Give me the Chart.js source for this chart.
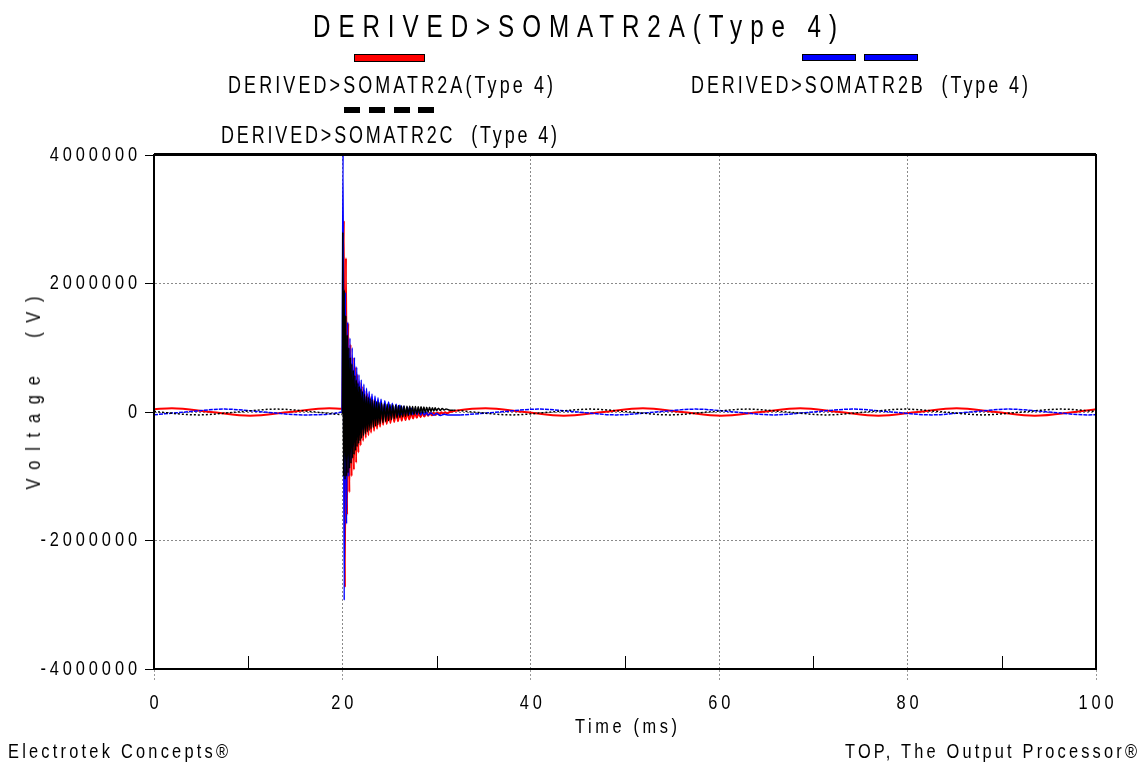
<!DOCTYPE html>
<html>
<head>
<meta charset="utf-8">
<title>DERIVED>SOMATR2A(Type 4)</title>
<script src="https://cdn.jsdelivr.net/npm/chart.js@4.4.1/dist/chart.umd.min.js"></script>
<style>
  html, body { margin: 0; padding: 0; background: #fff; }
  #wrap { position: relative; width: 1139px; height: 763px; overflow: hidden; }
  #chart { position: absolute; left: 0; top: 0; }
  .txt {
    position: absolute; white-space: pre; color: #000;
    font-family: 'Liberation Sans', Arial, sans-serif;
  }
  .swatch { position: absolute; box-sizing: border-box; }
</style>
</head>
<body>
<div id="wrap">
  <canvas id="chart" width="1139" height="763"></canvas>
  <div class="swatch" style="left:354px;top:54px;width:71px;height:8px;background:#ff0000;border:1px solid #000"></div>
  <div class="swatch" style="left:802px;top:54px;width:54px;height:7px;background:#0000ff;border:1px solid #000"></div>
  <div class="swatch" style="left:864px;top:54px;width:54px;height:7px;background:#0000ff;border:1px solid #000"></div>
  <div class="swatch" style="left:344px;top:107px;width:16px;height:6px;background:#000"></div>
  <div class="swatch" style="left:369px;top:107px;width:16px;height:6px;background:#000"></div>
  <div class="swatch" style="left:394px;top:107px;width:16px;height:6px;background:#000"></div>
  <div class="swatch" style="left:418px;top:107px;width:16px;height:6px;background:#000"></div>
</div>
<script>
// axis ticks (ms / V)
const xTicks = [0, 20, 40, 60, 80, 100];
const xMinor = [10, 30, 50, 70, 90];
const yTicks = [-4000000, -2000000, 0, 2000000, 4000000];

// [time ms, voltage V]
const redPts = [
  [0, 43000], [1.9, 58000], [6.05, 0], [10.2, -58000], [14.4, 0], [18.6, 58000], [20.0, 50000],
  [20.16, 2980000], [20.27, -2730000], [20.38, 2400000], [20.5, -1600000], [20.62, 1380000],
  [20.74, -1250000], [20.86, 1050000], [20.98, -1000000], [21.1, 850000], [21.22, -900000],
  [21.34, 700000], [21.46, -790000], [21.58, 580000], [21.7, -630000], [21.82, 470000],
  [21.94, -520000], [22.06, 400000], [22.2, -450000], [22.34, 330000], [22.48, -400000],
  [22.62, 280000], [22.76, -360000], [22.9, 240000], [23.04, -320000], [23.2, 200000],
  [23.36, -290000], [23.52, 170000], [23.68, -260000], [23.84, 140000], [24.0, -230000],
  [24.16, 120000], [24.32, -200000], [24.5, 100000], [24.7, -185000], [24.9, 80000],
  [25.1, -170000], [25.3, 60000], [25.5, -155000], [25.7, 45000], [25.9, -145000],
  [26.1, 30000], [26.3, -135000], [26.5, 15000], [26.7, -125000], [26.9, 5000],
  [27.1, -115000], [27.3, -5000], [27.5, -100000], [27.7, -10000], [27.9, -90000],
  [28.1, -12000], [28.3, -80000], [28.5, -12000], [28.7, -70000], [28.9, -12000],
  [29.1, -60000], [29.3, -10000], [29.5, -52000], [29.7, -10000], [29.9, -45000],
  [30.1, -8000], [30.3, -38000], [30.5, -5000], [30.7, -30000], [30.9, -2000],
  [31.1, -20000], [31.4, 0], [32.2, 24000],
  [35.2, 58000], [39.35, 0], [43.5, -58000], [47.7, 0], [51.9, 58000], [56.05, 0], [60.2, -58000],
  [64.4, 0], [68.6, 58000], [72.75, 0], [76.9, -58000], [81.05, 0], [85.2, 58000], [89.35, 0],
  [93.5, -58000], [97.7, 0], [100, 44000]
];

const bluePts = [
  [0, -42500], [3.35, 0], [7.5, 45000], [11.65, 0], [15.8, -45000], [19.95, 0],
  [20.07, 4000000], [20.19, -2930000], [20.32, 1860000], [20.44, -1740000], [20.56, 1400000],
  [20.68, -1000000], [20.8, 1150000], [20.92, -750000], [21.04, 1000000], [21.16, -550000],
  [21.28, 850000], [21.4, -450000], [21.52, 700000], [21.64, -380000], [21.76, 580000],
  [21.88, -320000], [22.0, 500000], [22.14, -270000], [22.28, 430000], [22.42, -220000],
  [22.56, 370000], [22.7, -180000], [22.84, 320000], [22.98, -150000], [23.14, 280000],
  [23.3, -120000], [23.46, 250000], [23.62, -100000], [23.78, 220000], [23.94, -85000],
  [24.1, 200000], [24.3, -75000], [24.5, 175000], [24.7, -65000], [24.9, 155000],
  [25.1, -55000], [25.3, 135000], [25.5, -50000], [25.7, 120000], [25.9, -45000],
  [26.1, 105000], [26.3, -40000], [26.5, 90000], [26.7, -35000], [26.9, 75000],
  [27.1, -35000], [27.3, 60000], [27.5, -38000], [27.7, 45000], [27.9, -40000],
  [28.1, 30000], [28.3, -45000], [28.5, 15000], [28.7, -48000], [28.9, 0],
  [29.1, -50000], [29.4, -15000], [29.7, -52000], [30.0, -25000], [30.4, -55000],
  [30.8, -35000], [31.3, -48000], [32.5, -45000],
  [36.65, 0], [40.8, 45000], [44.95, 0], [49.1, -45000], [53.3, 0], [57.5, 45000], [61.65, 0],
  [65.8, -45000], [69.95, 0], [74.1, 45000], [78.3, 0], [82.5, -45000], [86.65, 0], [90.8, 45000],
  [94.95, 0], [99.1, -45000], [100, -42500]
];

const blackPts = [
  [0, 9300], [0.55, 0], [4.7, -45000], [8.85, 0], [13.0, 45000], [17.15, 0], [20.0, -39000],
  [20.04, 2800000], [20.12, -1000000], [20.2, 1900000], [20.28, -1050000], [20.36, 1500000],
  [20.44, -1000000], [20.52, 1200000], [20.6, -950000], [20.68, 1000000], [20.76, -880000],
  [20.84, 850000], [20.92, -800000], [21.0, 750000], [21.08, -720000], [21.16, 650000],
  [21.24, -660000], [21.32, 570000], [21.4, -600000], [21.48, 500000], [21.56, -540000],
  [21.64, 450000], [21.72, -490000], [21.8, 400000], [21.88, -450000], [21.96, 360000],
  [22.04, -410000], [22.14, 320000], [22.24, -370000], [22.34, 280000], [22.44, -340000],
  [22.54, 250000], [22.64, -310000], [22.74, 230000], [22.84, -285000], [22.94, 210000],
  [23.04, -260000], [23.16, 190000], [23.28, -240000], [23.4, 175000], [23.52, -220000],
  [23.64, 160000], [23.76, -200000], [23.88, 150000], [24.0, -180000], [24.15, 140000],
  [24.3, -165000], [24.45, 130000], [24.6, -150000], [24.75, 122000], [24.9, -135000],
  [25.05, 115000], [25.2, -120000], [25.35, 110000], [25.5, -105000], [25.65, 105000],
  [25.8, -95000], [25.95, 100000], [26.1, -85000], [26.25, 96000], [26.4, -75000],
  [26.55, 93000], [26.7, -65000], [26.85, 90000], [27.0, -55000], [27.15, 88000],
  [27.3, -45000], [27.45, 86000], [27.6, -38000], [27.75, 84000], [27.9, -30000],
  [28.05, 82000], [28.2, -22000], [28.35, 80000], [28.5, -15000], [28.65, 78000],
  [28.8, -8000], [28.95, 75000], [29.1, 0], [29.25, 72000], [29.4, 8000], [29.55, 68000],
  [29.7, 15000], [29.85, 65000], [30.0, 20000], [30.2, 60000], [30.4, 25000], [30.6, 55000],
  [30.8, 30000], [31.0, 48000], [31.3, 32000], [31.8, 28000],
  [33.85, 0], [38.0, -45000], [42.15, 0], [46.3, 45000], [50.5, 0], [54.7, -45000], [58.85, 0],
  [63.0, 45000], [67.15, 0], [71.4, -45000], [75.55, 0], [79.7, 45000], [83.85, 0], [88.0, -45000],
  [92.15, 0], [96.3, 45000], [100, 8000]
];

const labels = [
  { text: 'DERIVED>SOMATR2A(Type 4)', left: 313, width: 524, cy: 26, size: 31 },
  { text: 'DERIVED>SOMATR2A(Type 4)', left: 228, width: 325, cy: 85.5, size: 23 },
  { text: 'DERIVED>SOMATR2B  (Type 4)', left: 691, width: 337, cy: 85.5, size: 23 },
  { text: 'DERIVED>SOMATR2C  (Type 4)', left: 221, width: 336, cy: 135.5, size: 23 },
  { text: 'Time (ms)', left: 575, width: 102, cy: 725, size: 21 },
  { text: 'Electrotek Concepts®', left: 8, width: 220, cy: 750.5, size: 21 },
  { text: 'TOP, The Output Processor®', left: 845, width: 292, cy: 750.5, size: 21 },
  { text: 'Voltage  (V)', cx: 32, cy: 393, width: 193, size: 21, rotate: true }
];

const NARROW = 0.78;   // the reference face is a condensed sans
const toXY = (pts) => pts.map(([x, y]) => ({ x, y }));

function placeLabels() {
  const wrap = document.getElementById('wrap');
  labels.forEach((l) => {
    const el = document.createElement('div');
    el.className = 'txt';
    el.textContent = l.text;
    el.style.fontSize = l.size + 'px';
    el.style.lineHeight = l.size + 'px';
    wrap.appendChild(el);
    const w = el.getBoundingClientRect().width;
    const s = (l.width / NARROW - w) / (l.text.length - 1);
    el.style.letterSpacing = s + 'px';
    if (l.rotate) {
      el.style.transformOrigin = '0 50%';
      el.style.left = l.cx + 'px';
      el.style.top = (l.cy + l.width / 2 - l.size / 2) + 'px';
      el.style.marginLeft = (-l.size / 2) + 'px';
      el.style.transform = `translate(${l.size / 2}px, 0) rotate(-90deg) scaleX(${NARROW})`;
    } else {
      el.style.left = l.left + 'px';
      el.style.top = (l.cy - 0.49 * l.size) + 'px';
      el.style.transformOrigin = '0 0';
      el.style.transform = `scaleX(${NARROW})`;
    }
  });
}

// condensed, letter-spaced tick text
function drawSpaced(ctx, text, x, y, align, size, gap) {
  ctx.save();
  ctx.font = `${size}px 'Liberation Sans', Arial, sans-serif`;
  ctx.fillStyle = '#000';
  ctx.textAlign = 'left';
  ctx.textBaseline = 'middle';
  const chars = [...text];
  const widths = chars.map((ch) => ctx.measureText(ch).width * NARROW);
  const total = widths.reduce((a, b) => a + b, 0) + gap * (chars.length - 1);
  let cx = align === 'right' ? x - total : align === 'center' ? x - total / 2 : x;
  chars.forEach((ch, i) => {
    ctx.save();
    ctx.translate(cx, y);
    ctx.scale(NARROW, 1);
    ctx.fillText(ch, 0, 0);
    ctx.restore();
    cx += widths[i] + gap;
  });
  ctx.restore();
}

const tickLabelPlugin = {
  id: 'tickLabels',
  afterDraw(chart) {
    const { ctx, scales: { x, y } } = chart;
    y.ticks.forEach((t) => drawSpaced(ctx, String(t.value), 137, y.getPixelForValue(t.value), 'right', 21, 3.9));
    x.ticks.forEach((t) => drawSpaced(ctx, String(t.value), x.getPixelForValue(t.value), 703, 'center', 21, 3.9));
  }
};

const framePlugin = {
  id: 'frame',
  afterDatasetsDraw(chart) {
    const { ctx, chartArea: a, scales: { x } } = chart;
    ctx.save();
    ctx.strokeStyle = '#000';
    ctx.lineWidth = 1;
    xMinor.forEach((v) => {
      const px = Math.round(x.getPixelForValue(v)) + 0.5;
      ctx.beginPath();
      ctx.moveTo(px, a.bottom);
      ctx.lineTo(px, a.bottom - 13);
      ctx.stroke();
    });
    ctx.lineWidth = 2;
    ctx.strokeRect(a.left, a.top, a.right - a.left, a.bottom - a.top);
    ctx.lineWidth = 3;
    ctx.beginPath();
    ctx.moveTo(a.left, a.top - 0.5);
    ctx.lineTo(a.right, a.top - 0.5);
    ctx.stroke();
    ctx.restore();
  }
};

// dashed steady-state trace, solid through the transient burst
const burstSolid = (dash) => ({
  borderDash: (c) => (c.p0.parsed.x >= 19.9 && c.p1.parsed.x <= 33 ? [] : dash)
});

function buildChart() {
  new Chart(document.getElementById('chart'), {
    type: 'line',
    data: {
      datasets: [
        { label: 'DERIVED>SOMATR2C (Type 4)', data: toXY(blackPts), borderColor: '#000000', borderWidth: 1.5, segment: burstSolid([2, 2]) },
        { label: 'DERIVED>SOMATR2B (Type 4)', data: toXY(bluePts), borderColor: '#0000ff', borderWidth: 1.5, segment: burstSolid([4, 1]) },
        { label: 'DERIVED>SOMATR2A(Type 4)', data: toXY(redPts), borderColor: '#ff0000', borderWidth: 2 }
      ]
    },
    options: {
      responsive: false,
      animation: false,
      devicePixelRatio: 1,
      elements: {
        point: { radius: 0 },
        line: { cubicInterpolationMode: 'monotone', fill: false }
      },
      layout: { padding: { top: 155, right: 43, bottom: 24, left: 0 } },
      plugins: { legend: { display: false }, tooltip: { enabled: false }, title: { display: false } },
      scales: {
        x: {
          type: 'linear', min: 0, max: 100,
          afterBuildTicks: (scale) => { scale.ticks = xTicks.map((v) => ({ value: v })); },
          afterFit: (scale) => { scale.height = 70; },
          ticks: { display: false },
          grid: { color: '#8a8a8a', lineWidth: 1, tickLength: 12, tickColor: '#9a9a9a', tickBorderDash: [2, 2] },
          border: { color: '#000', width: 2, dash: [2, 2] }
        },
        y: {
          type: 'linear', min: -4000000, max: 4000000,
          afterBuildTicks: (scale) => { scale.ticks = yTicks.map((v) => ({ value: v })); },
          afterFit: (scale) => { scale.width = 154; },
          ticks: { display: false },
          grid: { color: '#8a8a8a', lineWidth: 1, tickLength: 9, tickColor: '#000', tickBorderDash: [] },
          border: { color: '#000', width: 2, dash: [2, 2] }
        }
      }
    },
    plugins: [framePlugin, tickLabelPlugin]
  });
}

placeLabels();
buildChart();
</script>
</body>
</html>
